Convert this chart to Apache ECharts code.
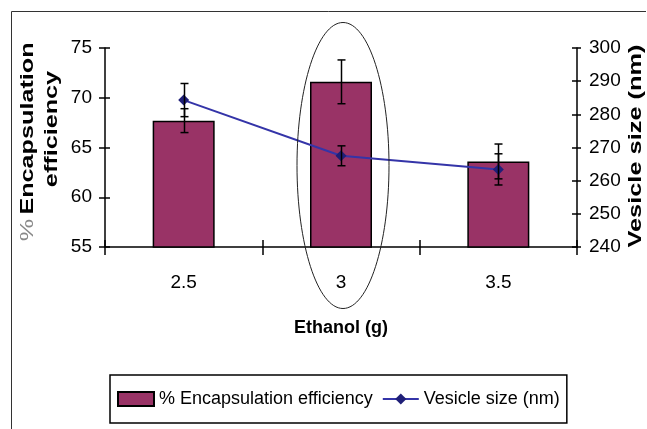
<!DOCTYPE html>
<html>
<head>
<meta charset="utf-8">
<script src="https://cdn.jsdelivr.net/npm/echarts@6/dist/echarts.min.js"></script>
<style>html,body{margin:0;padding:0;background:#fff;}#c{width:647px;height:429px;}</style>
</head>
<body>
<div id="c"></div>
<script>
var ethanol = ['2.5', '3', '3.5'];
var efficiency = [67.7, 71.6, 63.6];
var efficiencyErr = [1.2, 2.2, 1.75];
var vesicleSize = [284.3, 267.5, 263.4];
var vesicleSizeErr = [5.0, 3.0, 4.7];
var effTicks = {min: 55, max: 75, step: 5};
var sizeTicks = {min: 240, max: 300, step: 10};

var SANS = "'Liberation Sans', Arial, sans-serif";

function errData(vals, errs) {
  return vals.map(function (v, i) { return [i, v - errs[i], v + errs[i]]; });
}
function errRender(params, api) {
  var lo = api.coord([api.value(0), api.value(1)]);
  var hi = api.coord([api.value(0), api.value(2)]);
  var x = Math.round(lo[0]) + 0.5, w = 4;
  var st = {stroke: '#000', lineWidth: 1.5};
  return {type: 'group', children: [
    {type: 'line', shape: {x1: x, y1: lo[1], x2: x, y2: hi[1]}, style: st},
    {type: 'line', shape: {x1: x - w, y1: lo[1], x2: x + w, y2: lo[1]}, style: st},
    {type: 'line', shape: {x1: x - w, y1: hi[1], x2: x + w, y2: hi[1]}, style: st}
  ]};
}

var chart = echarts.init(document.getElementById('c'), null, {renderer: 'canvas'});
var tickLabel = {color: '#000', fontFamily: SANS, fontSize: 19};

chart.setOption({
  animation: false,
  backgroundColor: '#fff',
  grid: {left: 105, right: 70, top: 48, bottom: 182, containLabel: false},
  legend: {
    left: 110, top: 375, orient: 'horizontal',
    borderColor: '#000', borderWidth: 1.5, padding: [12, 7, 12, 7],
    itemWidth: 36, itemHeight: 14, itemGap: 9,
    textStyle: {color: '#000', fontFamily: SANS, fontSize: 18, lineHeight: 24},
    data: [{name: '% Encapsulation efficiency', icon: 'rect'}, {name: 'Vesicle size (nm)'}]
  },
  xAxis: [
    {
      type: 'category', data: ethanol, boundaryGap: true,
      axisLine: {show: true, lineStyle: {color: '#000', width: 1.5}},
      axisTick: {show: true, length: 8, lineStyle: {color: '#000', width: 1.5}},
      axisLabel: Object.assign({margin: 26}, tickLabel),
      name: 'Ethanol (g)', nameLocation: 'middle', nameGap: 72,
      nameTextStyle: {color: '#000', fontFamily: SANS, fontSize: 18, fontWeight: 'bold'}
    },
    {
      type: 'category', data: ethanol, boundaryGap: true, position: 'bottom',
      axisLine: {show: false},
      axisTick: {show: true, inside: true, length: 7, lineStyle: {color: '#000', width: 1.5}},
      axisLabel: {show: false}
    }
  ],
  yAxis: [
    {type: 'value', position: 'left', min: effTicks.min, max: effTicks.max, interval: effTicks.step,
      splitLine: {show: false},
      axisLine: {show: true, lineStyle: {color: '#000', width: 1.5}},
      axisTick: {show: true, length: 6, lineStyle: {color: '#000', width: 1.5}},
      axisLabel: Object.assign({margin: 13}, tickLabel)},
    {type: 'value', position: 'right', min: sizeTicks.min, max: sizeTicks.max, interval: sizeTicks.step,
      splitLine: {show: false},
      axisLine: {show: true, lineStyle: {color: '#000', width: 1.5}},
      axisTick: {show: true, length: 4, lineStyle: {color: '#000', width: 1.5}},
      axisLabel: Object.assign({margin: 12}, tickLabel)},
    {type: 'value', position: 'left', min: effTicks.min, max: effTicks.max, interval: effTicks.step,
      splitLine: {show: false}, axisLine: {show: false}, axisLabel: {show: false},
      axisTick: {show: true, inside: true, length: 5, lineStyle: {color: '#000', width: 1.5}}},
    {type: 'value', position: 'right', min: sizeTicks.min, max: sizeTicks.max, interval: sizeTicks.step,
      splitLine: {show: false}, axisLine: {show: false}, axisLabel: {show: false},
      axisTick: {show: true, inside: true, length: 5, lineStyle: {color: '#000', width: 1.5}}}
  ],
  series: [
    {
      name: '% Encapsulation efficiency', type: 'bar', data: efficiency,
      xAxisIndex: 0, yAxisIndex: 0, barWidth: 62,
      itemStyle: {color: '#993366', borderColor: '#000', borderWidth: 1.5},
      z: 2
    },
    {
      name: 'errEff', type: 'custom', xAxisIndex: 0, yAxisIndex: 0,
      data: errData(efficiency, efficiencyErr), renderItem: errRender, z: 3, silent: true
    },
    {
      name: 'Vesicle size (nm)', type: 'line', data: vesicleSize,
      xAxisIndex: 0, yAxisIndex: 1,
      lineStyle: {color: '#3434a8', width: 2},
      itemStyle: {color: '#1f1f78'},
      symbol: 'diamond', symbolSize: 11, showSymbol: true,
      z: 4
    },
    {
      name: 'errSize', type: 'custom', xAxisIndex: 0, yAxisIndex: 1,
      data: errData(vesicleSize, vesicleSizeErr), renderItem: errRender, z: 5, silent: true
    }
  ],
  graphic: [
    {type: 'polyline', shape: {points: [[11.5, 429], [11.5, 11.5], [646, 11.5]]},
      style: {stroke: '#333', lineWidth: 1, fill: null}, z: 0},
    {type: 'ellipse', shape: {cx: 343, cy: 165.5, rx: 46, ry: 143},
      style: {stroke: '#222', lineWidth: 1, fill: null}, z: 10},
    {type: 'text', x: 28, y: 230, rotation: Math.PI / 2, scaleX: 1.4,
      style: {text: '%', fill: '#888', font: '18px ' + SANS, textAlign: 'center', textVerticalAlign: 'middle'}},
    {type: 'text', x: 28, y: 128.5, rotation: Math.PI / 2, scaleX: 1.4,
      style: {text: 'Encapsulation', fill: '#000', font: 'bold 18px ' + SANS, textAlign: 'center', textVerticalAlign: 'middle'}},
    {type: 'text', x: 52, y: 129, rotation: Math.PI / 2, scaleX: 1.4,
      style: {text: 'efficiency', fill: '#000', font: 'bold 18px ' + SANS, textAlign: 'center', textVerticalAlign: 'middle'}},
    {type: 'text', x: 636, y: 146, rotation: Math.PI / 2, scaleX: 1.41,
      style: {text: 'Vesicle size (nm)', fill: '#000', font: 'bold 18px ' + SANS, textAlign: 'center', textVerticalAlign: 'middle'}}
  ]
});
</script>
</body>
</html>
